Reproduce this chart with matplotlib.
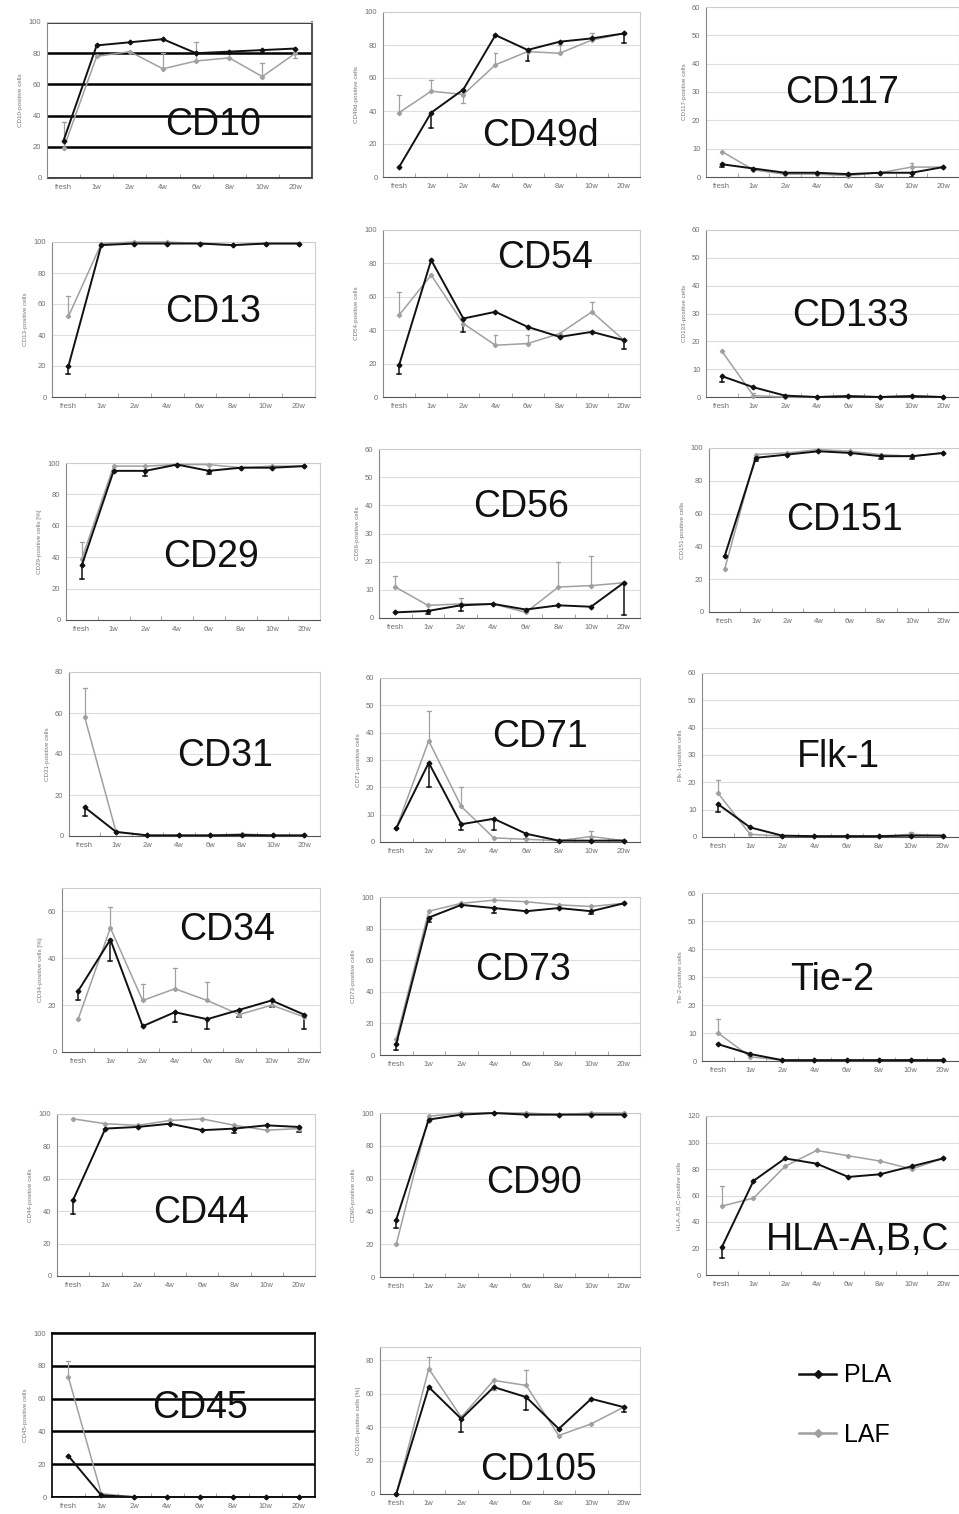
import matplotlib.pyplot as plt
import numpy as np

plt.rcParams['font.family'] = ['Liberation Sans', 'DejaVu Sans']

W, H = 959, 1514
weeks = ["fresh", "1w", "2w", "4w", "6w", "8w", "10w", "20w"]

markers = ["CD10", "CD49d", "CD117",
           "CD13", "CD54", "CD133",
           "CD29", "CD56", "CD151",
           "CD31", "CD71", "Flk-1",
           "CD34", "CD73", "Tie-2",
           "CD44", "CD90", "HLA-A,B,C",
           "CD45", "CD105"]

ylabels = ["CD10-positive cells", "CD49d-positive cells", "CD117-positive cells",
           "CD13-positive cells", "CD54-positive cells", "CD133-positive cells",
           "CD29-positive cells [%]", "CD56-positive cells", "CD151-positive cells",
           "CD31-positive cells", "CD71-positive cells", "Flk-1-positive cells",
           "CD34-positive cells [%]", "CD73-positive cells", "Tie-2-positive cells",
           "CD44-positive cells", "CD90-positive cells", "HLA-A,B,C-positive cells",
           "CD45-positive cells", "CD105-positive cells [%]"]

ymax = [100, 100, 60, 100, 100, 60, 100, 60, 100, 80,
        60, 60, 70, 100, 60, 100, 100, 120, 100, 88]
ystep = [20, 20, 10, 20, 20, 10, 20, 10, 20, 20,
         10, 10, 20, 20, 10, 20, 20, 20, 20, 20]

pla = [
    [24, 85, 87, 89, 80, 81, 82, 83],
    [6, 39, 53, 86, 77, 82, 84, 87],
    [4.5, 3, 1.5, 1.5, 1, 1.5, 1.5, 3.5],
    [20, 98, 99, 99, 99, 98, 99, 99],
    [19, 82, 47, 51, 42, 36, 39, 34],
    [7.5, 3.5, 0.5, 0, 0.3, 0, 0.3, 0],
    [35, 95, 95, 99, 95, 97, 97, 98],
    [2, 2.5, 4.5, 5, 3, 4.5, 4, 12.5],
    [34, 94, 96, 98, 97, 95, 95, 97],
    [14, 2, 0.3, 0.3, 0.3, 0.5, 0.3, 0.3],
    [5, 29, 6.5, 8.5, 3, 0.5, 0.5, 0.5],
    [12, 3.5, 0.5, 0.3, 0.3, 0.3, 0.5, 0.5],
    [26, 48, 11, 17, 14, 18, 22, 16],
    [7, 87, 95, 93, 91, 93, 91, 96],
    [6, 2.5, 0.3, 0.3, 0.3, 0.3, 0.3, 0.3],
    [47, 91, 92, 94, 90, 91, 93, 92],
    [35, 96, 99, 100, 99, 99, 99, 99],
    [21, 71, 88, 84, 74, 76, 82, 88],
    [25, 1, 0, 0, 0, 0, 0, 0],
    [0, 64, 45, 64, 58, 39, 57, 52],
]

laf = [
    [19, 78, 81, 70, 75, 77, 65, 80],
    [39, 52, 50, 68, 76, 75, 83, 87],
    [9, 2.5, 1, 1, 0.5, 1.5, 3.5, 3.5],
    [52, 99, 100, 100, 99, 98, 99, 99],
    [49, 73, 44, 31, 32, 38, 51, 34],
    [16.5, 0.5, 0, 0, 0.5, 0, 0.5, 0],
    [39, 98, 98, 99, 99, 97, 98, 98],
    [11, 4.5, 5, 5, 2, 11, 11.5, 12.5],
    [26, 96, 97, 99, 98, 96, 95, 97],
    [58, 2, 0.3, 0.3, 0.3, 1, 0.3, 0.3],
    [5, 37, 13, 1.5, 1, 0.5, 2, 0.5],
    [16, 1, 0.3, 0.3, 0.3, 0.3, 1, 0.5],
    [14, 53, 22, 27, 22, 16, 20, 15],
    [10, 91, 96, 98, 97, 95, 94, 96],
    [10, 1.5, 0.3, 0.3, 0.3, 0.3, 0.5, 0.3],
    [97, 94, 93, 96, 97, 93, 90, 91],
    [20, 98, 100, 100, 100, 99, 100, 100],
    [52, 58, 82, 94, 90, 86, 80, 88],
    [73, 2, 0, 0, 0, 0, 0, 0],
    [0, 75, 46, 68, 65, 35, 42, 52],
]

# signed error bars: + goes up, - goes down
pla_err = [
    [0, 0, 0, 0, 0, 0, 0, 0],
    [0, -9, 0, 0, -7, 0, 0, -6],
    [-1, 0, 0, 0, 0, 0, -1.5, 0],
    [-5, 0, 0, 0, 0, 0, 0, 0],
    [-5, 0, -8, 0, 0, 0, 0, -5],
    [-2, 0, 0, 0, 0, 0, 0, 0],
    [-9, 0, -3, 0, -2, 0, 0, 0],
    [0, -1, -2, 0, 0, 0, 0, -11.5],
    [0, -2, 0, 0, 0, -2, -2, 0],
    [-4, 0, 0, 0, 0, 0, 0, 0],
    [0, -9, -2, -4, -2, 0, 0, 0],
    [-3, 0, 0, 0, 0, 0, 0, 0],
    [-4, -9, 0, -4, -4, -3, -3, -6],
    [-4, -3, 0, -3, 0, 0, -2, 0],
    [0, 0, 0, 0, 0, 0, 0, 0],
    [-9, 0, 0, 0, 0, -3, 0, -3],
    [-5, 0, 0, 0, 0, 0, 0, 0],
    [-8, 0, 0, 0, 0, 0, 0, 0],
    [0, 0, 0, 0, 0, 0, 0, 0],
    [0, 0, -8, 0, -8, 0, 0, -3],
]

laf_err = [
    [17, 0, 0, 10, 12, 0, 9, -3],
    [11, 7, -5, 7, 0, 5, 4, 0],
    [0, 0, 0, 0, 0, 0, 1.5, 0],
    [13, 0, 0, 0, 0, 0, 0, 0],
    [14, 0, 0, 6, 5, 0, 6, 0],
    [0, 1, 0, 0, 0, 0, 0, 0],
    [11, 0, 0, 0, 0, 0, 0, 0],
    [4, 0, 2, 0, 0, 9, 10.5, 0],
    [0, 0, 0, 0, 0, 0, 0, 0],
    [14, 0, 0, 0, 0, 0, 0, 0],
    [0, 11, 7, 0, 0, 0, 2, 0],
    [5, 0, 0, 0, 0, 0, 1, 0],
    [0, 9, 7, 9, 8, 0, 0, 0],
    [0, 0, 0, 0, 0, 0, 0, 0],
    [5, 0, 0, 0, 0, 0, 0, 0],
    [0, 0, 0, 0, 0, 0, 0, 0],
    [0, 0, 0, 0, 0, 0, 0, 0],
    [15, 0, 0, 0, 0, 0, 0, 0],
    [10, 0, 0, 0, 0, 0, 0, 0],
    [0, 7, 0, -6, 9, 0, 0, 0],
]

# axes boxes in pixels: left, top, right, bottom
boxes = [
    (47, 22, 312, 178), (383, 12, 640, 177), (706, 7, 959, 177),
    (52, 242, 315, 397), (383, 230, 640, 397), (706, 230, 959, 397),
    (66, 463, 320, 620), (379, 449, 640, 618), (709, 448, 959, 612),
    (69, 672, 320, 836), (380, 678, 640, 842), (702, 673, 959, 837),
    (62, 888, 320, 1052), (380, 897, 640, 1055), (702, 893, 959, 1061),
    (57, 1114, 315, 1276), (380, 1113, 640, 1277), (706, 1116, 959, 1275),
    (52, 1333, 315, 1497), (380, 1347, 640, 1494),
]

# big marker names, centre in pixels
name_pos = [
    (213, 125), (540, 136), (842, 93),
    (213, 312), (545, 258), (850, 316),
    (211, 557), (521, 507), (845, 520),
    (225, 756), (540, 737), (838, 757),
    (227, 930), (523, 970), (832, 980),
    (201, 1213), (534, 1183), (858, 1240),
    (200, 1408), (538, 1470),
]

dark_grid = ["CD10", "CD45"]

fig = plt.figure(figsize=(W / 100, H / 100), dpi=100)
x = np.arange(len(weeks))


def draw_err(ax, vals, errs, color, lw):
    for xi, v, e in zip(x, vals, errs):
        if e == 0:
            continue
        ax.plot([xi, xi], [v, v + e], color=color, lw=lw, zorder=2)
        ax.plot([xi - 0.06, xi + 0.06], [v + e, v + e], color=color, lw=lw, zorder=2)


for i, name in enumerate(markers):
    l, t, r, b = boxes[i]
    ax = fig.add_axes([l / W, 1 - b / H, (r - l) / W, (b - t) / H])
    dark = name in dark_grid
    ax.set_xlim(-0.5, 7.5)
    ax.set_ylim(0, ymax[i])
    ax.set_yticks(np.arange(0, ymax[i] + 0.1, ystep[i]))
    ax.set_xticks(x)
    ax.set_xticklabels(weeks)
    ax.set_xticks(np.arange(0.5, 7, 1), minor=True)
    ax.tick_params(axis='both', which='major', labelsize=5.5, labelcolor='#707070',
                   length=0, pad=4)
    ax.tick_params(axis='x', which='minor', length=3, color='#999999', direction='in')
    ax.yaxis.grid(True, color='black' if dark else '#dddddd', lw=1.8 if dark else 0.8)
    ax.set_axisbelow(True)
    for s in ax.spines:
        ax.spines[s].set_color('#cccccc')
        ax.spines[s].set_linewidth(0.8)
    ax.spines['bottom'].set_color('#555555')
    ax.spines['left'].set_color('#888888')
    if name == "CD45":
        for s in ax.spines:
            ax.spines[s].set_color('black')
            ax.spines[s].set_linewidth(1.2)
    elif name == "CD10":
        ax.spines['right'].set_color('#333333')
        ax.spines['right'].set_linewidth(1.2)
    ax.set_ylabel(ylabels[i], fontsize=4.5, color='#777777', labelpad=4)

    draw_err(ax, laf[i], laf_err[i], '#a0a0a0', 0.9)
    draw_err(ax, pla[i], pla_err[i], '#111111', 1.1)
    ax.plot(x, laf[i], color='#a0a0a0', lw=1.1, marker='D', ms=2.2, zorder=3,
            clip_on=False)
    ax.plot(x, pla[i], color='#111111', lw=1.4, marker='D', ms=2.4, zorder=4,
            clip_on=False)

    px, py = name_pos[i]
    fig.text(px / W, 1 - py / H, name, fontsize=27, ha='center', va='center',
             color='#111111')

# legend
h1, = plt.plot([], [], color='#111111', lw=1.8, marker='D', ms=4.5)
h2, = plt.plot([], [], color='#a0a0a0', lw=1.8, marker='D', ms=4.5)
fig.legend([h1, h2], ["PLA", "LAF"], loc='center', bbox_to_anchor=(845 / W, 1 - 1405 / H),
           frameon=False, fontsize=18, handlelength=1.5, handletextpad=0.3,
           labelspacing=1.4)

fig.savefig("out.png", dpi=100)
